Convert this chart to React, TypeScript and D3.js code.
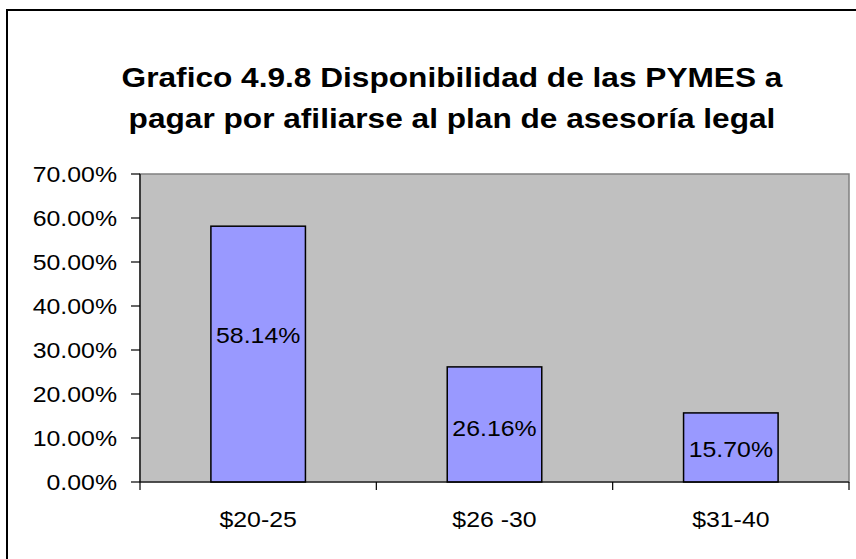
import React from "react";
import * as d3 from "d3";

const categories: string[] = ["$20-25", "$26 -30", "$31-40"];
const values: number[] = [0.5814, 0.2616, 0.157];
const valueLabels: string[] = ["58.14%", "26.16%", "15.70%"];
const labelAt: number[] = [0.334, 0.123, 0.075];
const yTicks: number[] = [0, 0.1, 0.2, 0.3, 0.4, 0.5, 0.6, 0.7];
const titleLines: string[] = [
  "Grafico 4.9.8 Disponibilidad de las PYMES a",
  "pagar por afiliarse al plan de asesoría legal",
];

const W = 856;
const H = 559;
const plot = { left: 140, right: 849, top: 174, bottom: 482 };
const SX = 1.13;
const FONT = "'Liberation Sans', Arial, sans-serif";

export default function App() {
  const x = d3
    .scaleBand<string>()
    .domain(categories)
    .range([plot.left, plot.right])
    .paddingInner(0)
    .paddingOuter(0);
  const y = d3.scaleLinear().domain([0, 0.7]).range([plot.bottom, plot.top]);
  const fmt = d3.format(".2%");
  const bw = x.bandwidth() * 0.4;
  const edges = [...categories.map((c) => x(c) as number), plot.right];

  return (
    <svg
      width={W}
      height={H}
      style={{ position: "absolute", left: 0, top: 0, background: "#fff" }}
      fontFamily={FONT}
    >
      <rect x={7} y={10} width={W + 20} height={H + 20} fill="#fff" stroke="#000" strokeWidth={2} />
      {titleLines.map((t, i) => (
        <text
          key={i}
          transform={`translate(452,${87 + i * 41}) scale(${SX},1)`}
          textAnchor="middle"
          fontSize={28}
          fontWeight="bold"
          fill="#000"
        >
          {t}
        </text>
      ))}
      <rect
        x={plot.left}
        y={plot.top}
        width={plot.right - plot.left}
        height={plot.bottom - plot.top}
        fill="#C0C0C0"
        stroke="#808080"
        strokeWidth={1.5}
      />
      {categories.map((c, i) => {
        const cx = (x(c) as number) + x.bandwidth() / 2;
        return (
          <g key={c}>
            <rect
              x={cx - bw / 2}
              y={y(values[i])}
              width={bw}
              height={plot.bottom - y(values[i])}
              fill="#9999FF"
              stroke="#000"
              strokeWidth={1.5}
            />
            <text
              transform={`translate(${cx},${y(labelAt[i]) + 7.9}) scale(${SX},1)`}
              textAnchor="middle"
              fontSize={22}
              fill="#000"
            >
              {valueLabels[i]}
            </text>
            <text
              transform={`translate(${cx},527) scale(${SX},1)`}
              textAnchor="middle"
              fontSize={22}
              fill="#000"
            >
              {c}
            </text>
          </g>
        );
      })}
      <line x1={plot.left} x2={plot.left} y1={plot.top} y2={plot.bottom} stroke="#000" strokeWidth={1.2} />
      <line x1={plot.left} x2={plot.right} y1={plot.bottom} y2={plot.bottom} stroke="#000" strokeWidth={1.2} />
      {yTicks.map((t) => (
        <g key={t}>
          <line x1={plot.left - 9} x2={plot.left} y1={y(t)} y2={y(t)} stroke="#000" strokeWidth={1.2} />
          <text
            transform={`translate(117,${y(t) + 7.9}) scale(${SX},1)`}
            textAnchor="end"
            fontSize={22}
            fill="#000"
          >
            {fmt(t)}
          </text>
        </g>
      ))}
      {edges.map((e, i) => (
        <line key={i} x1={e} x2={e} y1={plot.bottom} y2={plot.bottom + 8} stroke="#000" strokeWidth={1.2} />
      ))}
    </svg>
  );
}
